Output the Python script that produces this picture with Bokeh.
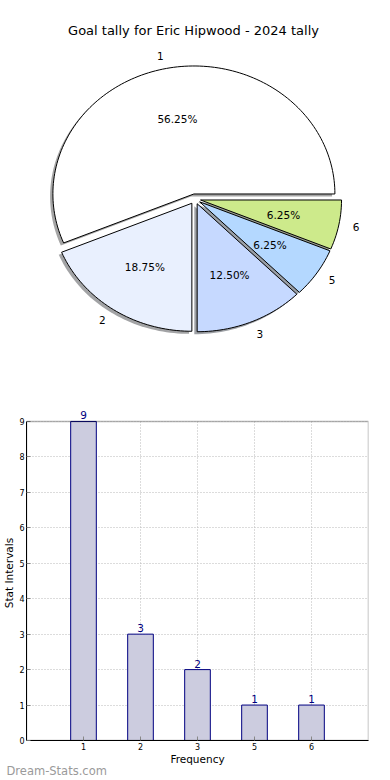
import numpy as np
from bokeh.plotting import figure
from bokeh.layouts import column
from bokeh.models import (Range1d, ColumnDataSource, LabelSet, FixedTicker, Label,
                          BoxAnnotation, Title)
from bokeh.core.properties import value
from bokeh.embed import file_html
from bokeh.resources import INLINE

# ---------------- data ----------------
title_text = "Goal tally for Eric Hipwood - 2024 tally"
categories = ["1", "2", "3", "5", "6"]
counts = [9, 3, 2, 1, 1]
pie_colors = ["#ffffff", "#e9f0fe", "#c6d9ff", "#b4d8ff", "#cdea8b"]
y_ticks = [0, 1, 2, 3, 4, 5, 6, 7, 8, 9]
x_label = "Frequency"
y_label = "Stat Intervals"
watermark = "Dream-Stats.com"

FONT = "DejaVu Sans"
LEFT, RIGHT = 20, 12          # shared side borders (frames aligned in column)
FW = 342                      # shared frame width

# ---------------- pie ----------------
RX, RY = 141.0, 128.0         # px per data unit (squashed pie)
PIE_TOP = 8
PIE_FH = 360
CX, CY = 168.5, 190.5         # centre in px from frame's top-left
EXPLODE = 0.04
SHADOW = 0.02

pie = figure(frame_width=FW, frame_height=PIE_FH,
             x_range=Range1d(-CX / RX, (FW - CX) / RX),
             y_range=Range1d(-(PIE_FH - CY) / RY, CY / RY),
             x_axis_location=None, y_axis_location=None,
             output_backend="svg", toolbar_location=None,
             min_border_left=LEFT, min_border_right=RIGHT,
             min_border_top=PIE_TOP, min_border_bottom=0)
pie.grid.visible = False
pie.outline_line_color = None

total = float(sum(counts))
xs, ys, sxs, sys_, shadow_cols = [], [], [], [], []
lab_l = dict(x=[], y=[], t=[])
lab_r = dict(x=[], y=[], t=[])
pct = dict(x=[], y=[], t=[])
theta = 0.0
for c, col, cat in zip(counts, pie_colors, categories):
    f = c / total
    t1, t2 = theta, theta + 2 * np.pi * f
    tm = 0.5 * (t1 + t2)
    ox, oy = EXPLODE * np.cos(tm), EXPLODE * np.sin(tm)
    ts = np.linspace(t1, t2, max(4, int(240 * f)))
    px = [ox] + list(ox + np.cos(ts))
    py = [oy] + list(oy + np.sin(ts))
    xs.append(px)
    ys.append(py)
    sxs.append([v - SHADOW for v in px])
    sys_.append([v - SHADOW for v in py])
    r = int(col[1:3], 16); g = int(col[3:5], 16); b = int(col[5:7], 16)
    shadow_cols.append("#%02x%02x%02x" % (int(r * 0.3), int(g * 0.3), int(b * 0.3)))
    lx, ly = ox + 1.1 * np.cos(tm), oy + 1.1 * np.sin(tm)
    target = lab_l if lx > 0 else lab_r
    target["x"].append(lx); target["y"].append(ly); target["t"].append(cat)
    pct["x"].append(ox + 0.6 * np.cos(tm)); pct["y"].append(oy + 0.6 * np.sin(tm))
    pct["t"].append("%.2f%%" % (f * 100))
    theta = t2

pie.patches(xs="xs", ys="ys", fill_color="c", fill_alpha=0.5, line_color=None,
            source=ColumnDataSource(dict(xs=sxs, ys=sys_, c=shadow_cols)))
pie.patches(xs="xs", ys="ys", fill_color="c", line_color="black", line_width=1,
            source=ColumnDataSource(dict(xs=xs, ys=ys, c=pie_colors)))

for src_d, align in ((pct, "center"), (lab_l, "left"), (lab_r, "right")):
    pie.text(x="x", y="y", text="t", source=ColumnDataSource(src_d),
             text_align=align, text_baseline="middle",
             text_font=value(FONT), text_font_size="10.5px", text_color="black")

pie.add_layout(Label(x=(FW / 2 - 4 - CX) / RX, y=(CY - 22) / RY, text=title_text,
                     text_align="center", text_baseline="middle",
                     text_font=FONT, text_font_size="13px", text_color="black"))

# ---------------- bar ----------------
positions = list(range(1, len(categories) + 1))
src = ColumnDataSource(dict(x=positions, count=counts,
                            label=[str(v) for v in counts]))

YTOP = y_ticks[-1] + 0.45     # extra room above the box for the value labels
PX_PER_Y = 319.0 / y_ticks[-1]
bar = figure(frame_width=FW, frame_height=int(round(PX_PER_Y * YTOP)),
             x_range=Range1d(0, len(categories) + 1),
             y_range=Range1d(y_ticks[0], YTOP),
             output_backend="svg", toolbar_location=None,
             min_border_top=37, min_border_bottom=37,
             min_border_left=LEFT, min_border_right=RIGHT)

for gr in (bar.xgrid, bar.ygrid):
    gr.grid_line_color = "#b8b8b8"
    gr.grid_line_dash = "1 2"
    gr.grid_line_width = 1
# hide grid above the box
bar.add_layout(BoxAnnotation(bottom=y_ticks[-1], fill_color="white", fill_alpha=1,
                             line_color=None, level="underlay"))

bar.vbar(x="x", top="count", width=0.45, fill_color="#ccccdf",
         line_color="#000080", line_width=1, source=src)
bar.add_layout(LabelSet(x="x", y="count", text="label", source=src, y_offset=2,
                        text_align="center", text_baseline="bottom",
                        text_font=value(FONT), text_font_size="10.5px",
                        text_color="#000080"))

bar.xaxis.ticker = FixedTicker(ticks=positions)
bar.xaxis.major_label_overrides = {p: c for p, c in zip(positions, categories)}
bar.yaxis.ticker = FixedTicker(ticks=y_ticks)
bar.yaxis.bounds = (y_ticks[0], y_ticks[-1])
bar.xaxis.axis_label = x_label
bar.yaxis.axis_label = y_label
for ax in (bar.xaxis[0], bar.yaxis[0]):
    ax.axis_label_text_font = FONT
    ax.axis_label_text_font_size = "10.5px"
    ax.axis_label_text_font_style = "normal"
    ax.axis_label_text_color = "black"
    ax.axis_label_standoff = 1
    ax.major_label_text_font = FONT
    ax.major_label_text_font_size = "8px"
    ax.major_label_text_color = "black"
    ax.major_label_standoff = 3
    ax.major_tick_in = 4
    ax.major_tick_out = 0
    ax.major_tick_line_color = "#888888"
    ax.minor_tick_line_color = None
    ax.axis_line_color = "black"
bar.yaxis[0].major_label_standoff = 2
bar.xaxis[0].major_label_standoff = 2
bar.xaxis[0].axis_label_standoff = 0
bar.outline_line_color = None

# plot box drawn up to the top tick
bar.add_layout(BoxAnnotation(left=0, right=len(categories) + 1,
                             bottom=y_ticks[0], top=y_ticks[-1],
                             fill_color=None, line_color="black", line_width=1.5))

bar.add_layout(Title(text=watermark, align="left", offset=-20, standoff=-8,
                     vertical_align="top",
                     text_font=FONT, text_font_size="11.5px",
                     text_font_style="normal", text_color="#9a9a9a"), "below")

layout = column(pie, bar, spacing=0)
open("out.html", "w").write(file_html(layout, INLINE))
